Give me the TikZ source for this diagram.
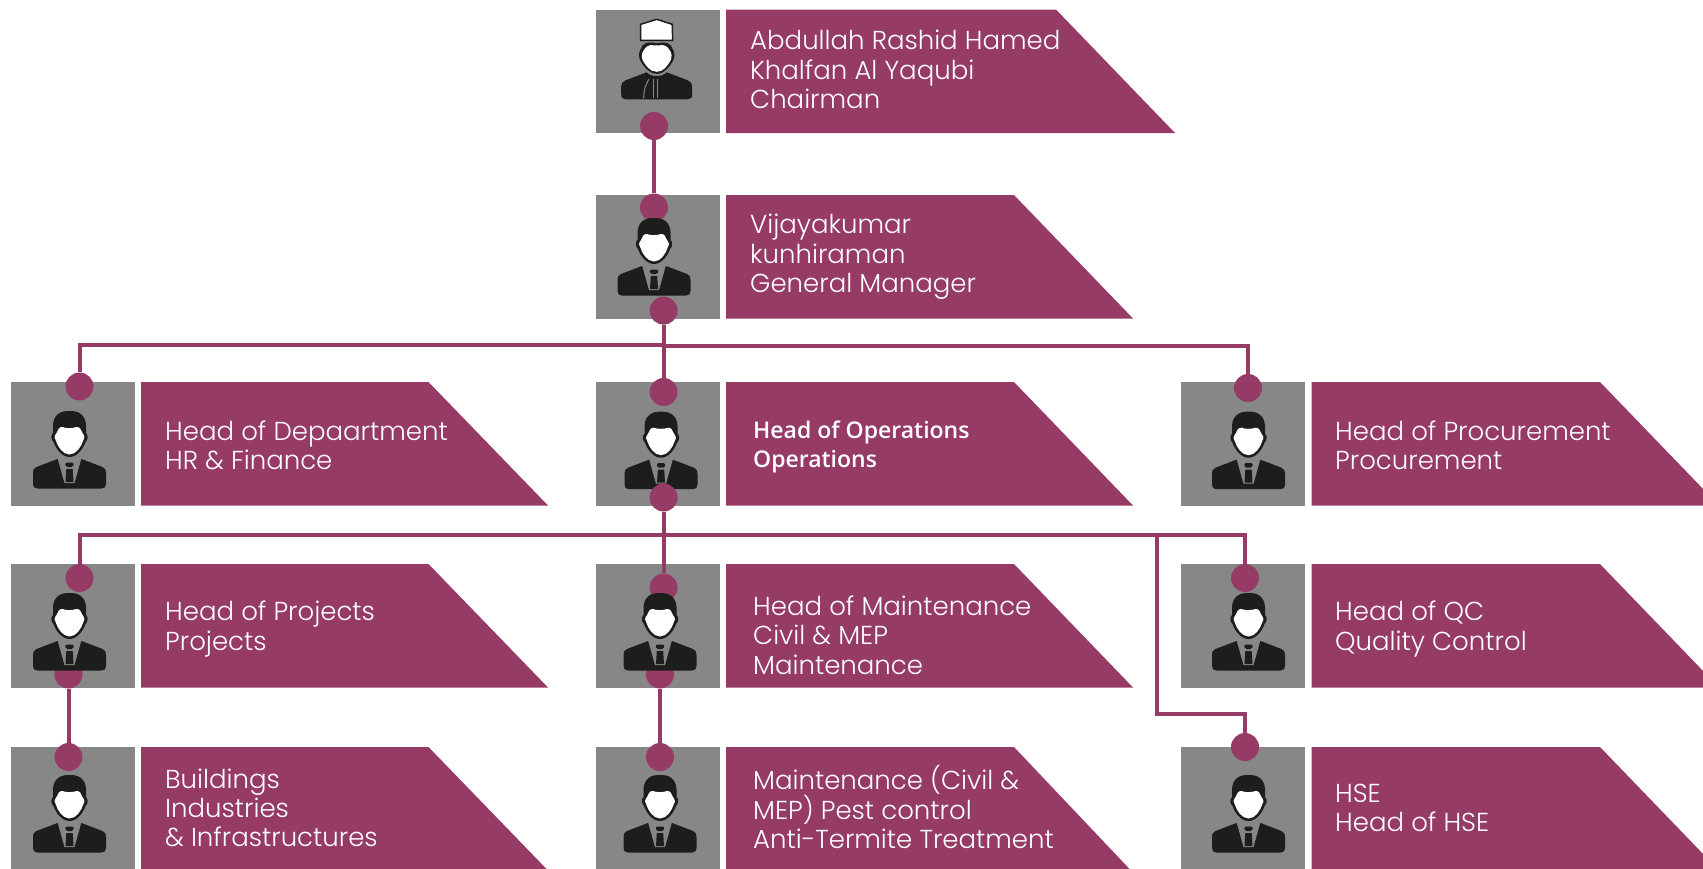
\documentclass[tikz,border=0pt]{standalone}
\usepackage{fontspec}
\setmainfont{Poppins}[UprightFont=* Light]
\newfontfamily\opsfont{Open Sans}[UprightFont=* Semibold]
\usetikzlibrary{positioning}

\definecolor{plum}{HTML}{963A66}
\definecolor{photogrey}{HTML}{878787}
\definecolor{iconink}{HTML}{1D1D1B}

\tikzset{
  photobox/.style={fill=photogrey, minimum width=124pt, minimum height=123.5pt, inner sep=0pt, anchor=north west},
  dotnode/.style={circle, fill=plum, minimum size=28pt, inner sep=0pt},
  wire/.style={draw=plum, line width=4pt},
  bannertext/.style={text=white, anchor=west, align=left, inner sep=0pt, font=\fontsize{26}{29.3}\selectfont},
  person/.pic={
    \fill[iconink] (0,0) .. controls (9,-.5) and (16,4) .. (16.5,14) -- (16.5,22) .. controls (19,24) and (18.5,29) .. (16,31) .. controls (14,37) and (8,46) .. (0,46) .. controls (-8,46) and (-14,37) .. (-16,31) .. controls (-18.5,29) and (-19,24) .. (-16.5,22) -- (-16.5,14) .. controls (-16,4) and (-9,-.5) .. (0,0) -- cycle;
    \fill[white] (0,43.5) .. controls (-7,43.5) and (-12,35) .. (-13.5,30) .. controls (-15.5,28) and (-15.5,25) .. (-13,22) .. controls (-12,19) and (-10,15.5) .. (-7,16) .. controls (-4,17.5) and (3,17.5) .. (7,16) .. controls (10,15.5) and (12,19) .. (13,22) .. controls (15.5,25) and (15.5,28) .. (13.5,30) .. controls (12,35) and (7,43.5) .. (0,43.5) -- cycle;
    \fill[iconink] (-12,48) -- (12,48) -- (33,56) .. controls (36,57.5) and (36.5,59) .. (36.5,62) -- (36.5,73) .. controls (36.5,76) and (35,77.5) .. (32,77.5) -- (-32,77.5) .. controls (-35,77.5) and (-36.5,76) .. (-36.5,73) -- (-36.5,62) .. controls (-36.5,59) and (-36,57.5) .. (-33,56) -- cycle;
    \fill[photogrey] (-12,47) -- (12,47) -- (5,72) -- (-5,72) -- cycle;
    \fill[iconink, rounded corners=1.5pt] (-4.5,51.5) -- (4.5,51.5) -- (3.5,56) -- (-3.5,56) -- cycle;
    \fill[iconink] (-3.2,58) -- (3.2,58) -- (4,71) -- (-4,71) -- cycle;
  },
  elder/.pic={
    \fill[iconink] (0,24) .. controls (9,22) and (15,24) .. (16,30) .. controls (18.5,33) and (18,39) .. (16,42) .. controls (13,47) and (8,54.5) .. (0,54.5) .. controls (-8,54.5) and (-13,47) .. (-16,42) .. controls (-18,39) and (-18.5,33) .. (-16,30) .. controls (-15,24) and (-9,22) .. (0,24) -- cycle;
    \filldraw[fill=white, draw=iconink, line width=1.5pt] (0,0) -- (15.5,5) -- (16,21) -- (-16,21) -- (-16,5) -- cycle;
    \fill[white] (0,52.5) .. controls (-7,52.5) and (-11,46) .. (-14,41) .. controls (-15.5,38) and (-15,33) .. (-13,31) .. controls (-11,27) and (-7,25) .. (-3,26) -- (3,26) .. controls (7,25) and (11,27) .. (13,31) .. controls (15,33) and (15.5,38) .. (14,41) .. controls (11,46) and (7,52.5) .. (0,52.5) -- cycle;
    \fill[iconink] (-10,53) .. controls (-6,58) and (6,58) .. (10,53) -- (31,61) .. controls (34,62.5) and (35.5,64) .. (35.5,67) -- (35.5,75) .. controls (35.5,78.5) and (34,80) .. (31,80) -- (-31,80) .. controls (-34,80) and (-35.5,78.5) .. (-35.5,75) -- (-35.5,67) .. controls (-35.5,64) and (-34,62.5) .. (-31,61) -- cycle;
    \draw[photogrey, line width=.8pt] (-3.5,60) -- (-3.5,79) (1,60) -- (1,79);
    \draw[photogrey, line width=1pt] (-8,60) .. controls (-11,66) and (-13,70) .. (-13,79);
  }
}

\newcommand{\banner}[4]{\fill[plum] (#1,#2) -- (#3,#2) -- (#4,#2+123.5) -- (#1,#2+123.5) -- cycle;}

\begin{document}
\begin{tikzpicture}[x=1pt, y=-1pt]
\useasboundingbox (0,0) rectangle (1703,868);
\clip (0,0) rectangle (1703,868);

\node[photobox] (photochair) at (596,9.5) {};
\node[photobox] (photogm) at (596,195) {};
\node[photobox] (photohr) at (11,382) {};
\node[photobox] (photoops) at (596,382) {};
\node[photobox] (photoproc) at (1181,382) {};
\node[photobox] (photoproj) at (11,564) {};
\node[photobox] (photomaint) at (596,564) {};
\node[photobox] (photoqc) at (1181,564) {};
\node[photobox] (photobuild) at (11,747) {};
\node[photobox] (photopest) at (596,747) {};
\node[photobox] (photohse) at (1181,747) {};

\banner{726}{9.5}{1056}{1175}
\banner{726}{195}{1014}{1133}
\banner{141}{382}{428.5}{548}
\banner{726}{382}{1014}{1133}
\banner{1311.5}{382}{1600}{1719}
\banner{141}{564}{428.5}{548}
\banner{726}{564}{1014}{1133}
\banner{1311.5}{564}{1600}{1719}
\banner{141}{747}{428.5}{548}
\banner{726}{747}{1014}{1131}
\banner{1311.5}{747}{1600}{1719}

% dots at the top of the photos lie behind the faces
\node[dotnode] (dotgm) at (654,207.5) {};
\node[dotnode] (dothr) at (79.5,386.5) {};
\node[dotnode] (dotops) at (663.6,392) {};
\node[dotnode] (dotproc) at (1248,388) {};
\node[dotnode] (dotproj) at (79.5,578) {};
\node[dotnode] (dotmaint) at (663.6,587.5) {};
\node[dotnode] (dotqc) at (1245,578) {};
\node[dotnode] (dotbuild) at (68.5,757) {};
\node[dotnode] (dotpest) at (660,757) {};
\node[dotnode] (dothse) at (1245,747) {};
\node[dotnode] (dotprojout) at (68.5,674.5) {};
\node[dotnode] (dotmaintout) at (660,674.5) {};

\pic at (656.7,19.3) {elder};
\pic at (654,218) {person};
\pic at (69.5,411) {person};
\pic at (661,411.7) {person};
\pic at (1248.5,411.7) {person};
\pic at (69.5,593) {person};
\pic at (660,593) {person};
\pic at (1248.5,593) {person};
\pic at (69.5,775) {person};
\pic at (660,775) {person};
\pic at (1248.5,775) {person};

\node[dotnode] (dotchair) at (654,126) {};
\node[dotnode] (dotgmout) at (663.6,310.6) {};
\node[dotnode] (dotopsout) at (663.6,497.5) {};

\coordinate (busa) at (663.6,344.5);
\coordinate (busb) at (663.6,346);
\coordinate (busc) at (663.6,535.3);
\coordinate (busd) at (1156.5,535.3);
\coordinate (buse) at (1156.5,714);

\draw[wire] (dotchair) -- (dotgm);
\draw[wire] (dotgmout) -- (dotops);
\draw[wire] (dothr) |- (busa);
\draw[wire] (dotproc) |- (busb);
\draw[wire] (dotopsout) -- (dotmaint);
\draw[wire] (dotproj) |- (busc) -- (busd);
\draw[wire] (dotqc) |- (busd);
\draw[wire] (busd) -- (buse) -| (dothse);
\draw[wire] (dotprojout) -- (dotbuild);
\draw[wire] (dotmaintout) -- (dotpest);

\node[bannertext] (textchair) at (750,69.5) {Abdullah Rashid Hamed\\Khalfan Al Yaqubi\\Chairman};
\node[bannertext] (textgm) at (750,257) {Vijayakumar\\kunhiraman\\General Manager};
\node[bannertext] (texthr) at (165,445) {Head of Depaartment\\HR \& Finance};
\node[bannertext, font=\opsfont\fontsize{23}{29.3}\selectfont] (textops) at (753,447) {Head of Operations\\Operations};
\node[bannertext] (textproc) at (1335,445) {Head of Procurement\\Procurement};
\node[bannertext] (textproj) at (165,629) {Head of Projects\\Projects};
\node[bannertext] (textmaint) at (753,635) {Head of Maintenance\\Civil \& MEP\\Maintenance};
\node[bannertext] (textqc) at (1335,629) {Head of QC\\Quality Control};
\node[bannertext] (textbuild) at (165,808) {Buildings\\Industries\\\& Infrastructures};
\node[bannertext] (textpest) at (753,807) {Maintenance (Civil \&\\MEP) Pest control\\Anti-Termite Treatment};
\node[bannertext] (texthse) at (1335,808) {HSE\\Head of HSE};
\end{tikzpicture}
\end{document}
